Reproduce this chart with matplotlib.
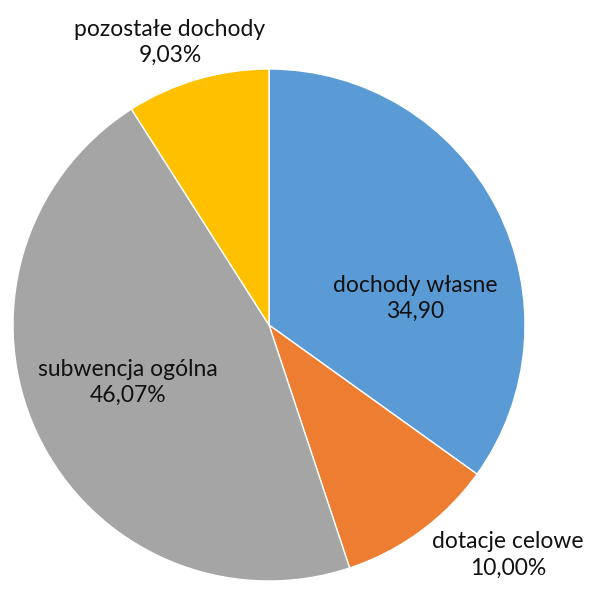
import matplotlib.pyplot as plt

plt.rcParams['font.family'] = ['Lato', 'DejaVu Sans']

kategorie = ['dochody własne', 'dotacje celowe', 'subwencja ogólna', 'pozostałe dochody']
wartosci = [34.90, 10.00, 46.07, 9.03]
etykiety_wartosci = ['34,90', '10,00%', '46,07%', '9,03%']
kolory = ['#5B9BD5', '#ED7D31', '#A5A5A5', '#FFC000']

# pozycje etykiet (w jednostkach promienia)
pozycje = [(0.57, 0.105), (0.934, -0.898), (-0.55, -0.223), (-0.387, 1.105)]

fig = plt.figure(figsize=(5.92, 6.02), dpi=100)
ax = fig.add_axes([13 / 592, 21 / 602, 512 / 592, 512 / 602])

ax.pie(wartosci, colors=kolory, startangle=90, counterclock=False,
       radius=1, wedgeprops=dict(edgecolor='white', linewidth=1))

for kat, war, (x, y) in zip(kategorie, etykiety_wartosci, pozycje):
    ax.text(x, y, kat + '\n' + war, ha='center', va='center',
            fontsize=16.5, color='#111111', linespacing=1.3)

ax.set_xlim(-1, 1)
ax.set_ylim(-1, 1)
ax.set_aspect('equal')
ax.axis('off')

fig.savefig('out.png', dpi=100)
